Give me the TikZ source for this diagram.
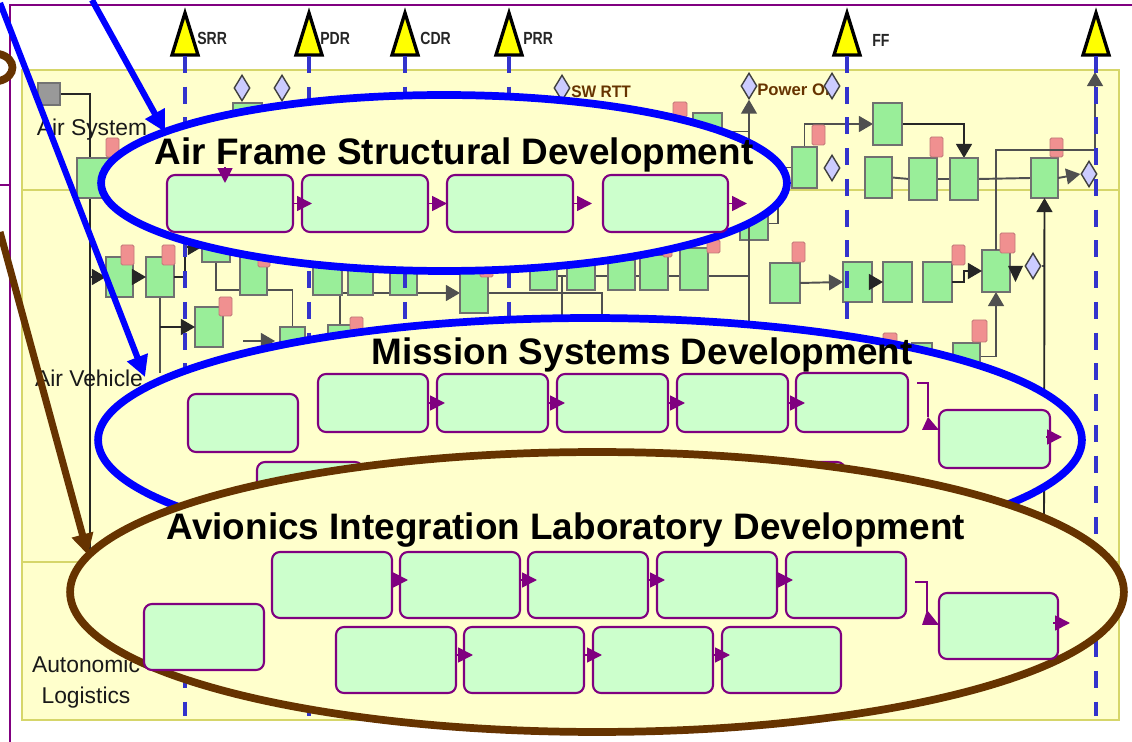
\documentclass[tikz,border=0pt]{standalone}
\usepackage{fontspec}
\setmainfont{Liberation Sans}
\usepackage{graphicx}
\usetikzlibrary{arrows.meta,shapes.geometric,calc}

\definecolor{cream}{HTML}{FFFFCC}
\definecolor{laneline}{HTML}{D6D66A}
\definecolor{netgreen}{HTML}{99EE99}
\definecolor{netedge}{HTML}{707070}
\definecolor{tabpink}{HTML}{F09090}
\definecolor{tabedge}{HTML}{C07878}
\definecolor{lilac}{HTML}{CCCCFF}
\definecolor{wire}{HTML}{505050}
\definecolor{taskgreen}{HTML}{CCFFCC}
\definecolor{plum}{HTML}{800080}
\definecolor{dashblue}{HTML}{3333CC}
\definecolor{ovalblue}{HTML}{0000FF}
\definecolor{ovalbrown}{HTML}{663300}
\definecolor{msyellow}{HTML}{FFFF00}

\pgfdeclarelayer{base}
\pgfdeclarelayer{wires}
\pgfsetlayers{base,wires,main}

\tikzset{
  netbox/.style={draw=netedge, fill=netgreen, line width=0.8pt},
  greybox/.style={draw=black!55, fill=black!40, line width=0.6pt},
  pinktab/.style={draw=tabedge, fill=tabpink, line width=0.5pt, rounded corners=0.8pt},
  gemstyle/.style={diamond, draw=black!75, fill=lilac, line width=0.8pt,
    minimum width=0.32cm, minimum height=0.52cm, inner sep=0pt},
  wireln/.style={draw=wire, line width=1.1pt},
  trunkln/.style={draw=black!85, line width=1.1pt},
  greyhead/.style={-{Triangle[length=8pt,width=9pt]}},
  task/.style={draw=plum, fill=taskgreen, line width=1.2pt, rounded corners=4.5pt},
  flow/.style={draw=plum, line width=1pt, -{Triangle[length=8.5pt,width=8.5pt]}},
  oval/.style={ellipse, draw=#1, fill=cream, line width=4.4pt, inner sep=0pt},
  bigtitle/.style={font=\bfseries\fontsize{21}{25}\selectfont, anchor=base, inner sep=0pt},
  lanelabel/.style={font=\fontsize{13}{17.5}\selectfont, text=black!90, inner sep=0pt},
  mslabel/.style={font=\bfseries\fontsize{10}{12}\selectfont, text=black!85, anchor=west, inner sep=0pt},
  evlabel/.style={font=\bfseries\fontsize{9.5}{11}\selectfont, text=ovalbrown, anchor=west, inner sep=0pt},
  gridline/.style={draw=dashblue, line width=2pt, dash pattern=on 9.6pt off 7.9pt},
  pointer/.style={line width=3.5pt, -{Triangle[length=12pt,width=12pt]}},
}

% box node given by its corners (pixel units)
\newcommand\mkcorner[6]{%
  \pgfmathsetmacro\mkcw{(#5-(#3))*0.02}%
  \pgfmathsetmacro\mkch{(#6-(#4))*0.02}%
  \node[#1, minimum width=\mkcw cm, minimum height=\mkch cm, inner sep=0pt, outer sep=0pt]
    (#2) at ({(#3+#5)/2},{(#4+#6)/2}) {};%
}
\newcommand\mkgem[3]{\node[gemstyle] (#1) at (#2,#3) {};}
% milestone triangle with its anchor point at the base
\newcommand\mktri[2]{%
  \coordinate (#1) at (#2,56);
  \draw[black, line width=1.9pt, fill=msyellow, line join=miter]
    (#2-13,55) -- (#2,13) -- (#2+13,55) -- cycle;}

\begin{document}
\begin{tikzpicture}[x=0.02cm,y=-0.02cm]
\useasboundingbox (0,0) rectangle (1132,742);

\begin{pgfonlayer}{base}
  \fill[white] (0,0) rectangle (1132,742);
  \draw[plum, line width=1.2pt] (1132,5) -- (10,5) -- (10,742);
  \draw[plum, line width=1.2pt] (0,185) -- (10,185);
  \fill[cream] (22,70) rectangle (1119,720);
  \draw[laneline, line width=1.2pt] (22,70) rectangle (1119,720);
  \draw[laneline, line width=1.2pt] (22,190) -- (1119,190);
  \draw[laneline, line width=1.2pt] (22,562) -- (1119,562);
\end{pgfonlayer}

% ---------- milestones ----------
\mktri{mSRR}{185}
\mktri{mPDR}{309}
\mktri{mCDR}{405}
\mktri{mPRR}{509}
\mktri{mFF}{847}
\mktri{mEnd}{1096}
\node[mslabel] (lSRR) at (197,38) {\scalebox{0.8}[1]{SRR}};
\node[mslabel] (lPDR) at (320,38) {\scalebox{0.8}[1]{PDR}};
\node[mslabel] (lCDR) at (420,38) {\scalebox{0.8}[1]{CDR}};
\node[mslabel] (lPRR) at (523,38) {\scalebox{0.8}[1]{PRR}};
\node[mslabel] (lFF) at (872,40) {\scalebox{0.8}[1]{FF}};
\coordinate (chartfoot) at (0,716);

% ---------- network: Air System lane ----------
\coordinate (trunkfoot) at (90,550);
\coordinate (pwrfoot) at (749,330);
\coordinate (risefoot) at (1044,515);
\coordinate (finalhook) at (1095,150);
\coordinate (finaltop) at (1095,72);

\mkcorner{greybox}{gsq}{38}{83}{60}{105}
\mkcorner{netbox}{s1}{77}{158}{112}{198}
\mkcorner{pinktab}{s1t}{106}{138}{119}{157}
\mkcorner{netbox}{b1}{233}{103}{262}{135}
\mkgem{d1}{242}{88}
\mkgem{d2}{282}{88}
\node[evlabel] (swrttlbl) at (571,92) {\scalebox{0.93}[1]{SW RTT}};
\mkgem{swrtt}{562}{88}
\node[evlabel] (pwronlbl) at (757,90) {Power On};
\mkgem{pwron}{749}{86}
\mkgem{d3}{832}{86}
\mkcorner{pinktab}{t2}{673}{102}{687}{117}
\mkcorner{netbox}{b2}{693}{113}{722}{150}
\mkcorner{netbox}{b3}{792}{147}{817}{188}
\mkcorner{pinktab}{t3}{812}{125}{825}{145}
\mkcorner{netbox}{b4}{873}{103}{902}{145}
\mkgem{d4}{832}{168}
\mkcorner{netbox}{b5}{865}{157}{892}{198}
\mkcorner{netbox}{b6}{909}{158}{937}{200}
\mkcorner{pinktab}{t6}{930}{137}{943}{157}
\mkcorner{netbox}{b7}{950}{158}{978}{200}
\mkcorner{netbox}{b8}{1031}{158}{1058}{198}
\mkcorner{pinktab}{t8}{1050}{138}{1063}{157}
\mkgem{d5}{1089}{174}

% ---------- network: Air Vehicle lane ----------
\mkcorner{netbox}{v1}{106}{257}{133}{297}
\mkcorner{pinktab}{v1t}{121}{245}{134}{265}
\mkcorner{netbox}{v2}{146}{257}{174}{297}
\mkcorner{pinktab}{v2t}{162}{245}{175}{265}
\mkcorner{netbox}{v3}{202}{232}{230}{262}
\mkcorner{netbox}{v4}{195}{307}{223}{347}
\mkcorner{pinktab}{v4t}{219}{297}{232}{316}
\mkcorner{netbox}{v5}{240}{240}{267}{295}
\mkcorner{pinktab}{v5t}{258}{240}{270}{267}
\mkcorner{netbox}{v6}{280}{327}{305}{365}
\mkcorner{netbox}{v8}{313}{262}{342}{295}
\mkcorner{netbox}{v9}{348}{262}{373}{295}
\mkcorner{netbox}{v10}{390}{262}{417}{295}
\mkcorner{netbox}{v11}{460}{273}{488}{313}
\mkcorner{pinktab}{v11t}{480}{268}{493}{277}
\mkcorner{netbox}{v12}{328}{325}{352}{360}
\mkcorner{pinktab}{v12t}{350}{317}{363}{330}
\mkcorner{netbox}{v13}{530}{262}{557}{290}
\mkcorner{netbox}{v14}{567}{262}{595}{290}
\mkcorner{netbox}{v15}{608}{260}{635}{290}
\mkcorner{netbox}{v16}{640}{255}{668}{290}
\mkcorner{netbox}{v17}{680}{248}{708}{290}
\mkcorner{pinktab}{v16t}{663}{250}{672}{257}
\mkcorner{pinktab}{v17t}{707}{240}{720}{253}
\mkcorner{netbox}{v18}{740}{207}{768}{240}
\mkcorner{netbox}{v19}{770}{263}{800}{303}
\mkcorner{pinktab}{v19t}{792}{242}{805}{262}
\mkcorner{netbox}{v20}{843}{262}{872}{302}
\mkcorner{netbox}{v21}{883}{262}{912}{302}
\mkcorner{netbox}{v22}{923}{262}{952}{302}
\mkcorner{pinktab}{v22t}{952}{245}{965}{265}
\mkcorner{netbox}{v23}{982}{250}{1010}{292}
\mkcorner{pinktab}{v23t}{1000}{233}{1015}{253}
\mkgem{d6}{1033}{266}
\mkcorner{netbox}{v24}{953}{343}{980}{370}
\mkcorner{pinktab}{v24t}{972}{320}{987}{342}
\mkcorner{netbox}{v25}{912}{343}{932}{380}
\mkcorner{pinktab}{v25t}{883}{333}{897}{347}

% wires running behind the boxes
\begin{pgfonlayer}{wires}
  \draw[trunkln] (gsq.east) -| (trunkfoot);
  \draw[wireln] (b2.east) -- (b2.east -| pwrfoot);
  \draw[wireln, greyhead] (b3.north) |- (b4.west);
  \draw[trunkln, greyhead] (b4.east) -| (b7.north);
  \draw[wireln] (b5.east) -- (b6.west) (b6.east) -- (b7.west) (b7.east) -- (b8.west);
  \draw[wireln] (v2.south) -- ++(0,76);
  \draw[wireln] (v3.south) -- ++(0,28) -| (v6.north);
  \draw[wireln, greyhead] (v8.west |- v11.west) -- (v11.west);
  \draw[wireln] (v12.north) -- (v12.north |- v11.west);
  \draw[wireln] (v11.east) -| ++(114,27);
  \draw[wireln] (v13.east) -- (v13.east -| pwrfoot);
  \draw[wireln] ($(v13.east)!0.5!(v14.west)$) -- ++(0,44);
  \draw[wireln] (v18.east) -- ++(10,0) |- (b3.west);
  \draw[wireln] (d6.east) -- (d6.east -| risefoot);
  \draw[wireln, greyhead] (v24.east) -| (v23.south);
\end{pgfonlayer}

% connectors drawn over the boxes
\draw[wireln, greyhead] (b8.east) -- (d5.west);
\draw[trunkln, greyhead] (risefoot) -- (b8.south);
\draw[trunkln, greyhead] (v1.west -| trunkfoot) -- (v1.west);
\draw[trunkln, greyhead] (v1.east) -- (v2.west);
\draw[trunkln, greyhead] (v2.east) -- ++(11,0) |- (v3.west);
\draw[trunkln, greyhead] (v2.south |- v4.west) -- (v4.west);
\coordinate (a7) at (243,341);
\draw[wireln, greyhead] (a7) -- ++(32,0);
\draw[wireln, greyhead] (v19.east) -- (v20.west);
\draw[trunkln, greyhead] (v20.east) -- (v21.west);
\draw[trunkln, greyhead] (v22.east) -- ++(12,0) |- (v23.west);
\fill[black!85] (1008,266) -- (1023,266) -- (1015.5,282) -- cycle;
\draw[wireln, greyhead] (v23.north) |- (finalhook) -- (finaltop);
\draw[wireln, greyhead] (pwrfoot) -- (pwron.south);

% milestone grid lines
\foreach \m in {mSRR,mPDR,mCDR,mPRR,mFF,mEnd}
  \draw[gridline] (\m) -- (\m |- chartfoot);

% lane labels
\node[lanelabel] (lnAS) at (92,130) {Air System};
\node[lanelabel] (lnAV) at (89,378) {Air Vehicle};
\node[lanelabel, align=center] (lnAL) at (86,682) {Autonomic\\Logistics};

% ---------- Air Frame Structural Development ----------
\node[oval=ovalblue, minimum width=13.72cm, minimum height=3.52cm] (afoval) at (444,183) {};
\node[bigtitle] (aftitle) at (454,165) {Air Frame Structural Development};
\mkcorner{task}{af1}{167}{175}{293}{232}
\mkcorner{task}{af2}{302}{175}{428}{232}
\mkcorner{task}{af3}{447}{175}{573}{232}
\mkcorner{task}{af4}{603}{175}{728}{232}
\draw[flow] ($(af1.north west)+(58,-8)$) -- ($(af1.north west)+(58,8)$);
\draw[flow] (af1.east) -- ($(af1.east)+(19,0)$);
\draw[flow] (af2.east) -- ($(af2.east)+(19,0)$);
\draw[flow] (af3.east) -- ($(af3.east)+(19,0)$);
\draw[flow] (af4.east) -- ($(af4.east)+(19,0)$);

% ---------- Mission Systems Development ----------
\node[oval=ovalblue, minimum width=19.68cm, minimum height=4.88cm] (msoval) at (590,440) {};
\node[bigtitle] (mstitle) at (642,365) {Mission Systems Development};
\mkcorner{task}{mA}{188}{394}{298}{452}
\mkcorner{task}{mB}{318}{374}{428}{432}
\mkcorner{task}{mC}{437}{374}{548}{432}
\mkcorner{task}{mD}{557}{374}{668}{432}
\mkcorner{task}{mE}{677}{374}{788}{432}
\mkcorner{task}{mF}{796}{373}{908}{432}
\mkcorner{task}{mG}{939}{410}{1050}{468}
\mkcorner{task}{mH}{257}{462}{363}{520}
\mkcorner{task}{mI}{735}{462}{845}{520}
\draw[flow] (mB.east) -- ($(mB.east)+(17,0)$);
\draw[flow] (mC.east) -- ($(mC.east)+(17,0)$);
\draw[flow] (mD.east) -- ($(mD.east)+(17,0)$);
\draw[flow] (mE.east) -- ($(mE.east)+(17,0)$);
\draw[plum, line width=1pt] ($(mF.north east)+(9,10)$) -- ++(11,0) -- ++(0,34);
\fill[plum] ($(mG.north west)+(-11,7)$) -- ($(mG.north west)+(-17,20)$) -- ($(mG.north west)+(0,20)$) -- cycle;
\draw[flow] ($(mG.east)+(-4,-2)$) -- ($(mG.east)+(12,-2)$);

% ---------- Avionics Integration Laboratory Development ----------
\node[oval=ovalbrown, minimum width=21.08cm, minimum height=5.6cm] (aloval) at (597,592) {};
\node[bigtitle] (altitle) at (566,540) {Avionics Integration Laboratory Development};
\mkcorner{task}{aa}{144}{604}{264}{670}
\mkcorner{task}{ab}{272}{552}{392}{618}
\mkcorner{task}{ac}{400}{552}{520}{618}
\mkcorner{task}{ad}{528}{552}{648}{618}
\mkcorner{task}{ae}{657}{552}{777}{618}
\mkcorner{task}{af}{786}{552}{906}{618}
\mkcorner{task}{ag}{939}{593}{1058}{659}
\mkcorner{task}{ah}{336}{627}{456}{693}
\mkcorner{task}{ai}{464}{627}{584}{693}
\mkcorner{task}{aj}{593}{627}{713}{693}
\mkcorner{task}{ak}{722}{627}{841}{693}
\draw[flow] ($(ab.east)+(0,-5)$) -- ($(ab.east)+(16,-5)$);
\draw[flow] ($(ac.east)+(0,-5)$) -- ($(ac.east)+(17,-5)$);
\draw[flow] ($(ad.east)+(0,-5)$) -- ($(ad.east)+(17,-5)$);
\draw[flow] ($(ae.east)+(0,-5)$) -- ($(ae.east)+(16,-5)$);
\draw[flow] ($(ah.east)+(0,-5)$) -- ($(ah.east)+(17,-5)$);
\draw[flow] ($(ai.east)+(0,-5)$) -- ($(ai.east)+(18,-5)$);
\draw[flow] ($(aj.east)+(0,-5)$) -- ($(aj.east)+(17,-5)$);
\draw[plum, line width=1pt] ($(af.north east)+(9,30)$) -- ++(12,0) -- ++(0,30);
\fill[plum] ($(ag.north west)+(-12,17)$) -- ($(ag.north west)+(-17,32)$) -- ($(ag.north west)+(0,32)$) -- cycle;
\draw[flow] ($(ag.east)+(-5,-3)$) -- ($(ag.east)+(12,-3)$);

% ---------- pointer arrows ----------
\coordinate (srcA) at (0,3);
\coordinate (tipA) at (145,377);
\coordinate (srcB) at (92,0);
\coordinate (tipB) at (165,132);
\coordinate (srcC) at (0,232);
\coordinate (tipC) at (88,555);
\draw[ovalblue, pointer] (srcA) -- (tipA);
\draw[ovalblue, pointer] (srcB) -- (tipB);
\draw[ovalbrown, pointer, line width=4pt] (srcC) -- (tipC);
\draw[ovalbrown, line width=4.4pt] (-1,54) .. controls (17,58) and (17,77) .. (-1,81);
\end{tikzpicture}
\end{document}
